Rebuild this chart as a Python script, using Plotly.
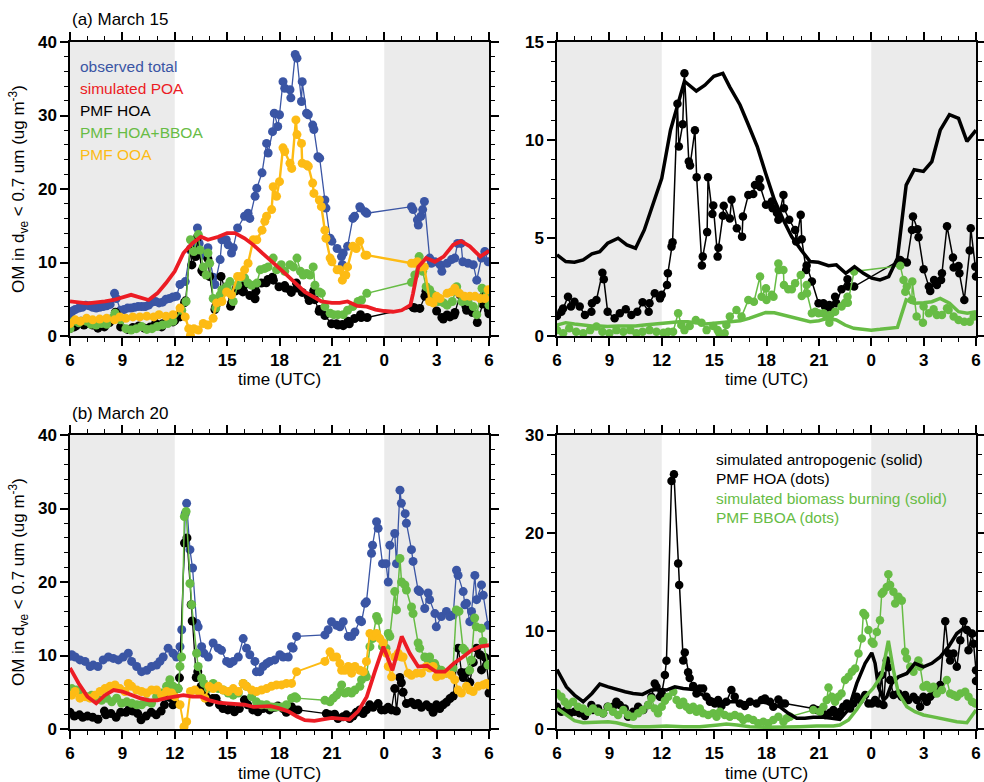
import plotly.graph_objects as go

# ---------------- data: March 15 (panel a) ----------------
obs15 = [(6.0,2.9),(6.15,3.4),(6.3,3.6),(6.5,3.8),(6.7,3.9),(6.9,4.2),(7.1,4.1),(7.3,3.9),(7.5,3.8),(7.7,3.9),(7.9,4.0),(8.1,4.1),(8.3,4.3),(8.55,5.8),(8.65,5.1),(8.9,3.5),(9.1,3.6),(9.3,3.8),(9.5,3.8),(9.7,3.9),(9.9,4.0),(10.1,4.0),(10.3,4.0),(10.5,4.2),(10.7,4.6),(10.9,4.7),(11.1,4.5),(11.3,4.6),(11.5,5.0),(11.7,5.1),(11.9,5.3),(12.1,5.4),(12.3,7.0),(12.6,7.4),(12.9,11.7),(13.06,12.4),(13.3,14.7),(13.4,12.6),(13.6,11.0),(13.9,12.0),(14.2,8.0),(14.3,7.0),(14.6,10.4),(14.7,13.1),(14.95,13.1),(15.06,12.4),(15.25,11.3),(15.35,12.0),(15.6,14.7),(16.0,16.3),(16.2,16.7),(16.3,16.0),(16.6,19.0),(16.7,20.1),(17.0,22.2),(17.26,26.2),(17.35,24.9),(17.6,27.8),(17.7,30.3),(17.9,28.5),(18.0,30.1),(18.2,34.6),(18.3,33.7),(18.6,33.5),(18.65,32.4),(18.9,38.3),(19.0,37.8),(19.26,31.9),(19.3,34.6),(19.55,30.3),(19.65,30.1),(19.9,28.7),(19.97,28.1),(20.2,24.4),(20.3,24.2),(20.6,18.5),(20.66,17.4),(20.9,13.3),(21.0,12.9),(21.3,11.9),(21.55,10.8),(21.6,9.7),(21.65,11.3),(21.9,12.2),(22.2,16.0),(22.3,16.3),(22.6,17.6),(22.65,17.4),(22.9,16.9),(23.0,16.7),(25.56,17.6),(25.65,17.2),(25.9,15.8),(25.95,15.1),(26.1,16.3),(26.2,17.2),(26.3,18.3),(26.6,10.6),(26.7,9.9),(26.9,10.1),(27.2,9.7),(27.3,8.8),(27.6,9.9),(27.85,10.4),(28.04,10.6),(28.2,12.6),(28.4,12.6),(28.5,10.1),(28.8,9.9),(29.1,9.7),(29.3,7.6),(29.57,10.6),(29.76,11.5),(29.95,10.1)]

poa15 = [(6.0,4.7),(7.0,4.45),(8.0,4.7),(8.5,4.9),(9.5,5.6),(10.5,4.9),(11.0,5.8),(11.5,7.2),(12.0,8.8),(12.5,11.3),(13.0,12.6),(13.5,13.5),(13.9,13.1),(14.5,13.5),(15.0,14.0),(15.45,14.0),(16.0,13.3),(16.5,12.4),(17.0,11.3),(17.45,10.4),(18.0,9.2),(18.5,8.1),(19.0,6.9),(19.45,6.0),(19.9,5.4),(20.4,4.7),(21.0,4.5),(21.45,4.5),(21.9,4.7),(22.45,4.1),(23.0,4.0),(23.5,3.6),(24.0,3.4),(24.5,3.3),(25.0,3.5),(25.5,4.2),(25.65,5.8),(25.95,9.4),(26.4,10.6),(26.9,10.1),(27.4,10.8),(27.95,12.4),(28.4,12.9),(28.9,12.2),(29.5,10.8),(30.0,11.6)]

hoa15 = [(6.0,1.02),(6.25,1.24),(6.35,1.4),(6.63,2.0),(6.8,1.5),(7.0,1.75),(7.3,1.5),(7.6,1.07),(7.97,1.24),(8.0,1.67),(8.26,1.84),(8.6,3.23),(8.68,2.9),(8.9,1.24),(9.3,0.9),(9.6,1.16),(9.94,1.36),(10.26,1.07),(10.6,1.24),(10.9,1.72),(11.25,1.24),(11.3,1.67),(11.6,2.18),(11.9,1.92),(12.0,2.1),(12.3,2.6),(12.35,3.2),(12.56,4.56),(12.62,4.78),(12.9,11.85),(12.98,9.67),(13.2,10.8),(13.3,13.4),(13.55,8.9),(13.62,8.7),(13.9,10.5),(14.0,8.1),(14.3,3.6),(14.35,4.05),(14.6,5.3),(14.65,8.1),(14.9,6.23),(14.95,6.66),(15.2,4.05),(15.25,4.5),(15.5,6.13),(15.55,6.64),(15.9,6.0),(16.0,6.95),(16.3,5.5),(16.6,5.07),(16.65,6.1),(16.96,7.2),(17.24,7.25),(17.34,7.7),(17.6,8.0),(17.65,7.6),(17.97,6.7),(18.3,6.86),(18.35,6.52),(18.6,6.27),(18.68,5.93),(18.97,7.2),(19.0,6.52),(19.3,5.93),(19.64,5.41),(19.7,4.82),(19.96,6.18),(20.02,4.94),(20.27,3.37),(20.3,3.6),(20.6,2.78),(20.98,1.67),(21.26,1.67),(21.35,1.5),(21.6,1.58),(21.65,1.41),(21.93,2.0),(22.0,1.67),(22.3,2.38),(22.64,2.9),(22.68,2.52),(23.02,2.52),(25.66,3.88),(25.75,3.8),(26.04,3.75),(26.33,5.41),(26.39,6.1),(26.65,5.45),(26.71,5.04),(27.0,3.4),(27.3,2.52),(27.38,2.3),(27.6,2.86),(27.76,2.6),(28.0,2.86),(28.05,3.2),(28.34,5.6),(28.68,4.0),(28.72,3.5),(29.0,3.57),(29.05,3.2),(29.33,1.84),(29.64,4.36),(29.7,5.5),(29.96,3.54),(30.0,3.03)]

hoabb15 = [(6.0,1.0),(6.2,2.0),(6.5,1.8),(6.95,2.0),(7.2,1.6),(7.5,1.5),(7.8,1.7),(8.1,1.6),(8.4,2.4),(8.58,3.1),(8.9,2.2),(9.2,1.0),(9.5,0.8),(9.8,1.0),(10.1,1.3),(10.4,0.9),(10.7,1.0),(11.0,1.3),(11.3,1.5),(11.6,1.7),(11.9,2.0),(12.4,3.5),(12.65,4.7),(12.9,13.1),(13.1,11.5),(13.35,13.8),(13.45,11.7),(13.63,9.4),(13.8,8.3),(13.9,11.3),(14.0,9.9),(14.2,5.1),(14.35,3.8),(14.6,5.6),(14.7,6.3),(14.97,6.7),(15.16,7.4),(15.35,4.7),(15.6,6.9),(16.0,7.9),(16.2,7.2),(16.4,6.9),(16.7,7.2),(16.9,9.0),(17.16,9.2),(17.35,9.4),(17.64,10.6),(17.83,9.0),(18.1,9.7),(18.3,8.8),(18.6,9.7),(18.8,9.4),(19.0,10.6),(19.2,8.8),(19.36,8.3),(19.55,8.5),(19.75,8.3),(19.93,9.4),(20.03,6.9),(20.28,6.0),(20.4,5.8),(20.6,4.0),(20.9,3.1),(21.1,2.9),(21.35,2.9),(21.65,2.9),(21.9,3.5),(22.2,4.0),(22.5,4.7),(22.7,4.9),(23.0,5.8),(25.56,7.3),(25.75,8.3),(26.0,10.8),(26.2,8.8),(26.4,6.7),(26.6,6.3),(26.8,5.6),(27.1,4.7),(27.4,4.5),(27.6,4.2),(27.9,4.7),(28.15,6.7),(28.45,4.7),(28.8,4.7),(29.1,4.0),(29.3,2.9),(29.6,6.5),(29.85,5.4),(30.0,4.2)]

ooa15 = [(6.0,1.7),(6.3,2.2),(6.6,2.0),(6.95,2.4),(7.3,2.2),(7.7,2.3),(8.1,2.4),(8.55,2.2),(8.86,2.6),(9.2,2.4),(9.6,2.6),(10.0,2.6),(10.4,2.7),(10.8,2.6),(11.1,2.9),(11.5,2.7),(11.9,2.9),(12.3,3.8),(12.6,2.6),(12.8,1.0),(12.9,0.1),(13.1,1.0),(13.35,0.8),(13.63,1.7),(13.9,1.5),(14.2,2.4),(14.4,4.5),(14.7,4.7),(14.97,6.0),(15.25,5.6),(15.6,8.1),(15.8,8.1),(16.0,9.0),(16.2,9.9),(16.5,13.1),(16.7,13.1),(17.0,14.4),(17.16,15.6),(17.26,16.3),(17.55,17.2),(17.64,20.3),(17.83,19.0),(18.0,21.0),(18.2,25.6),(18.3,25.1),(18.6,23.5),(18.7,22.8),(18.94,29.4),(19.0,27.4),(19.26,26.2),(19.3,23.5),(19.55,23.3),(19.65,23.1),(19.9,20.8),(19.97,19.4),(20.28,18.5),(20.4,17.6),(20.6,14.4),(20.66,13.3),(20.9,10.6),(21.0,10.1),(21.3,9.0),(21.45,9.0),(21.6,7.6),(21.8,8.3),(21.9,9.4),(22.2,12.2),(22.4,11.9),(22.6,12.9),(22.9,11.0),(23.0,11.0),(25.56,9.9),(25.75,9.9),(25.9,10.1),(26.1,9.4),(26.3,9.4),(26.6,4.7),(26.8,4.5),(27.0,5.4),(27.2,5.1),(27.6,5.8),(27.85,6.0),(28.04,6.5),(28.3,5.8),(28.6,5.4),(28.9,5.4),(29.2,5.4),(29.5,5.1),(29.76,5.1),(29.95,6.3)]

anth15 = [(6.0,4.14),(6.5,3.8),(7.0,3.76),(7.5,3.88),(8.0,4.19),(8.45,4.3),(8.9,4.73),(9.5,4.99),(10.0,4.65),(10.5,4.48),(11.0,5.41),(11.5,6.69),(12.0,8.05),(12.5,10.5),(13.0,12.0),(13.3,13.0),(13.98,12.5),(14.47,12.8),(14.98,13.25),(15.5,13.4),(15.9,12.7),(16.48,11.8),(16.96,10.78),(17.47,9.67),(17.95,8.3),(18.45,6.95),(18.96,5.93),(19.44,5.07),(19.98,4.39),(20.5,3.8),(20.97,3.76),(21.55,3.59),(22.0,3.63),(22.54,3.2),(23.04,3.54),(23.55,3.2),(24.03,2.95),(24.5,2.86),(25.0,3.03),(25.5,3.97),(26.0,7.7),(26.46,8.48),(26.99,8.4),(27.47,8.9),(27.95,10.5),(28.48,11.29),(29.0,11.1),(29.48,9.93),(30.0,10.5)]

bb15 = [(6.0,0.56),(6.5,0.68),(7.0,0.61),(7.5,0.56),(8.0,0.51),(8.45,0.51),(8.9,0.48),(9.5,0.51),(10.0,0.51),(10.5,0.51),(11.0,0.56),(11.5,0.61),(12.0,0.65),(12.5,0.68),(13.0,0.73),(13.5,0.73),(14.0,0.68),(14.5,0.61),(15.0,0.65),(15.5,0.68),(16.0,0.73),(16.5,0.78),(17.0,0.9),(17.5,1.07),(17.95,1.2),(18.45,1.19),(18.95,1.07),(19.45,0.95),(20.0,0.82),(20.5,0.73),(21.0,0.78),(21.5,0.9),(22.0,0.82),(22.5,0.56),(23.0,0.39),(23.5,0.34),(24.0,0.3),(24.5,0.34),(25.0,0.39),(25.5,0.44),(26.0,1.84),(26.46,1.67),(27.0,1.7),(27.47,1.75),(27.95,1.92),(28.48,1.67),(29.0,1.24),(29.5,1.16),(30.0,1.24)]

bboa15 = [(6.0,0.3),(6.35,0.14),(6.7,0.39),(7.1,0.22),(7.5,0.14),(7.9,0.3),(8.26,0.48),(8.6,0.22),(9.0,0.14),(9.4,0.3),(9.8,0.22),(10.2,0.3),(10.55,0.14),(10.9,0.22),(11.3,0.3),(11.7,0.22),(12.1,0.17),(12.37,0.22),(12.65,0.22),(12.94,1.16),(13.12,0.56),(13.3,0.3),(13.6,0.51),(13.95,0.82),(14.28,0.68),(14.57,0.3),(14.95,0.51),(15.2,0.3),(15.3,0.14),(15.6,0.14),(15.7,0.56),(15.9,0.99),(16.28,1.33),(16.57,0.99),(16.96,1.84),(17.28,1.75),(17.63,3.04),(17.72,2.0),(17.97,2.43),(18.0,1.84),(18.3,2.1),(18.4,2.0),(18.68,3.7),(18.7,3.37),(18.97,3.37),(19.0,2.6),(19.25,2.38),(19.45,2.38),(19.64,2.69),(19.96,3.11),(20.02,2.04),(20.3,2.6),(20.32,2.18),(20.6,1.16),(20.79,1.24),(20.98,1.16),(21.26,1.16),(21.45,0.99),(21.6,0.68),(21.65,1.07),(21.93,1.24),(22.3,1.5),(22.5,1.7),(22.64,2.0),(22.66,1.7),(23.02,3.29),(25.66,3.58),(25.85,2.86),(25.95,2.26),(26.04,2.52),(26.33,1.84),(26.35,2.78),(26.6,0.99),(26.96,0.68),(27.0,1.5),(27.3,1.16),(27.57,1.36),(27.76,1.07),(28.05,1.07),(28.34,1.41),(28.43,1.33),(28.72,0.99),(29.0,0.82),(29.33,0.73),(29.64,0.73),(29.87,0.99)]

# ---------------- data: March 20 (panel b) ----------------
obs20 = [(6.0,9.9),(6.1,10.1),(6.3,9.8),(6.57,9.4),(6.86,9.2),(7.15,8.5),(7.33,8.7),(7.6,8.5),(7.9,9.4),(8.2,9.8),(8.48,9.6),(8.77,9.4),(9.05,9.8),(9.34,10.3),(9.53,9.2),(9.82,8.5),(10.1,7.8),(10.4,8.0),(10.67,8.5),(10.96,8.7),(11.15,9.2),(11.34,9.8),(11.62,11.0),(11.9,10.3),(12.1,9.8),(12.3,11.2),(12.4,13.5),(12.6,29.3),(12.68,30.7),(12.87,24.4),(13.02,21.9),(13.25,14.4),(13.34,13.9),(13.54,11.2),(13.67,10.3),(13.92,9.8),(14.2,11.7),(14.49,11.0),(14.68,10.7),(14.97,9.2),(15.16,8.9),(15.35,9.2),(15.64,9.8),(15.92,12.3),(16.11,11.0),(16.3,10.1),(16.59,9.2),(16.68,7.8),(16.87,7.8),(17.06,8.5),(17.26,8.9),(17.45,9.2),(17.73,9.4),(18.02,10.1),(18.21,9.8),(18.5,9.8),(18.69,11.2),(18.78,11.0),(18.98,12.6),(20.6,12.8),(20.79,13.5),(20.98,14.6),(21.27,14.1),(21.46,13.9),(21.65,14.6),(21.94,12.6),(22.13,12.6),(22.32,13.2),(22.6,14.8),(22.7,14.6),(22.9,17.1),(22.98,17.3),(23.27,23.9),(23.33,25.0),(23.56,28.2),(23.65,27.3),(23.9,22.5),(24.1,22.5),(24.23,20.0),(24.32,25.0),(24.6,26.6),(24.7,22.5),(24.9,32.5),(24.98,30.7),(25.2,29.3),(25.27,28.0),(25.56,24.4),(25.65,22.8),(25.94,18.9),(26.03,18.7),(26.32,16.4),(26.51,18.5),(26.6,17.6),(26.9,15.7),(26.98,13.9),(27.27,15.3),(27.56,16.0),(27.75,15.3),(27.95,15.5),(28.14,21.6),(28.23,20.9),(28.52,18.7),(28.62,16.9),(28.71,17.1),(28.9,14.6),(29.0,16.0),(29.19,20.9),(29.29,17.6),(29.57,19.6),(29.67,18.2),(29.95,14.1)]

poa20 = [(6.0,8.3),(6.5,6.2),(7.0,4.4),(7.5,3.5),(8.0,4.6),(8.5,5.3),(9.0,5.1),(9.5,4.6),(10.0,4.2),(10.5,3.9),(11.0,3.9),(11.5,4.2),(12.0,4.4),(12.5,4.6),(13.0,4.4),(13.5,4.4),(14.0,3.9),(14.5,3.6),(15.0,3.5),(15.5,3.4),(16.0,3.3),(16.5,3.0),(17.0,3.0),(17.5,3.1),(18.0,2.8),(18.5,2.4),(19.0,1.7),(19.45,1.2),(20.0,1.1),(20.5,1.3),(21.0,1.5),(21.45,1.4),(22.0,1.3),(22.5,2.4),(23.0,4.4),(23.46,7.8),(23.95,11.2),(24.47,8.0),(25.0,12.6),(25.46,10.3),(25.94,8.5),(26.46,8.6),(26.95,7.8),(27.47,7.8),(27.98,8.9),(28.5,9.8),(29.0,10.7),(29.47,11.2),(30.0,11.4)]

ooa20 = [(6.1,4.6),(6.29,5.1),(6.57,4.2),(6.86,4.4),(7.15,4.2),(7.43,4.6),(7.72,5.1),(8.0,5.5),(8.29,5.8),(8.58,6.0),(8.86,5.5),(9.15,5.1),(9.34,6.2),(9.53,5.8),(9.82,5.3),(10.1,5.1),(10.39,4.9),(10.67,5.3),(10.96,5.3),(11.25,4.6),(11.53,5.1),(11.82,4.9),(12.01,4.4),(12.3,3.3),(12.53,0.3),(12.68,1.0),(12.9,5.1),(13.15,5.3),(13.44,4.9),(13.73,4.2),(13.97,5.8),(14.2,5.5),(14.49,5.8),(14.78,5.3),(15.06,5.1),(15.35,5.5),(15.64,5.1),(15.92,6.2),(16.11,5.8),(16.4,5.3),(16.68,5.1),(16.97,5.3),(17.26,5.5),(17.54,5.8),(17.83,6.0),(18.12,6.0),(18.4,6.2),(18.69,6.2),(18.98,7.8),(20.6,9.2),(20.89,10.5),(21.08,9.8),(21.27,9.8),(21.46,8.9),(21.56,8.0),(21.75,8.0),(21.94,8.5),(22.13,7.6),(22.32,8.5),(22.6,8.0),(22.8,7.8),(22.98,9.2),(23.18,13.0),(23.37,12.6),(23.56,13.0),(23.75,12.3),(23.94,11.7),(24.13,10.3),(24.23,8.5),(24.42,7.1),(24.6,9.8),(24.8,10.3),(24.99,9.8),(25.08,9.8),(25.37,7.6),(25.56,7.3),(25.85,7.6),(26.13,7.6),(26.42,8.5),(26.61,8.3),(26.8,8.5),(26.99,7.1),(27.28,7.3),(27.56,7.6),(27.85,7.3),(28.04,6.7),(28.23,5.3),(28.42,4.9),(28.71,5.8),(28.9,5.3),(29.09,5.1),(29.38,5.8),(29.67,6.0),(29.86,6.2),(30.0,6.0)]

hoabb20 = [(6.1,5.5),(6.38,5.3),(6.67,4.9),(6.95,4.4),(7.24,4.6),(7.53,4.2),(7.81,3.9),(8.1,4.2),(8.39,3.7),(8.67,4.2),(8.96,3.5),(9.25,3.7),(9.53,3.5),(9.82,3.3),(10.1,3.3),(10.39,3.7),(10.67,3.5),(10.96,4.4),(11.25,4.9),(11.53,5.8),(11.72,6.7),(11.91,5.8),(12.2,5.5),(12.3,8.5),(12.39,9.8),(12.55,28.9),(12.65,29.6),(12.87,19.8),(12.97,16.9),(13.25,10.3),(13.34,8.5),(13.54,6.9),(13.67,6.2),(13.92,5.5),(14.2,6.2),(14.49,5.5),(14.78,5.3),(15.06,4.9),(15.35,4.6),(15.64,4.9),(15.92,6.2),(16.11,5.8),(16.4,4.4),(16.68,3.7),(16.97,3.3),(17.26,3.3),(17.54,3.0),(17.83,3.0),(18.12,3.0),(18.4,3.3),(18.69,4.2),(18.88,4.4),(18.98,4.2),(20.6,3.9),(20.89,3.7),(21.08,4.2),(21.27,4.6),(21.46,5.1),(21.56,6.0),(21.75,4.9),(21.94,5.1),(22.13,4.9),(22.32,5.3),(22.6,5.8),(22.7,6.7),(22.89,7.6),(22.98,7.1),(23.18,11.2),(23.33,12.3),(23.56,15.3),(23.65,14.8),(23.9,11.2),(24.1,11.0),(24.23,13.0),(24.32,12.6),(24.6,18.7),(24.7,16.2),(24.9,23.2),(24.99,20.0),(25.18,19.6),(25.27,18.9),(25.56,16.6),(25.65,15.7),(25.94,11.7),(26.03,11.0),(26.32,9.8),(26.51,9.4),(26.6,9.8),(26.89,8.9),(26.99,8.3),(27.27,8.0),(27.56,7.6),(27.75,7.8),(27.94,8.3),(28.13,16.2),(28.28,16.0),(28.51,11.0),(28.61,10.7),(28.89,8.0),(28.99,9.4),(29.18,15.1),(29.27,13.9),(29.56,13.7),(29.66,11.9),(29.94,8.7)]

hoa20 = [(6.0,2.27),(6.25,1.76),(6.54,1.93),(6.73,1.6),(7.0,1.76),(7.3,1.6),(7.6,1.32),(7.97,2.44),(8.06,1.93),(8.35,2.1),(8.64,1.6),(8.9,2.27),(9.2,2.27),(9.4,2.78),(9.6,2.44),(9.88,2.1),(10.07,1.26),(10.36,1.76),(10.65,2.27),(10.94,1.93),(11.22,2.44),(11.41,3.29),(11.6,4.65),(11.7,4.3),(11.9,3.29),(12.0,3.63),(12.18,5.5),(12.27,6.96),(12.56,25.3),(12.7,26.0),(12.94,16.9),(13.0,14.7),(13.23,7.0),(13.32,7.8),(13.51,5.8),(13.6,5.2),(13.8,4.4),(13.99,3.63),(14.18,4.14),(14.37,4.14),(14.56,3.29),(14.76,2.78),(15.04,2.6),(15.23,2.95),(15.42,2.34),(15.7,2.78),(15.99,3.97),(16.18,3.29),(16.47,2.6),(16.76,2.34),(17.05,2.78),(17.43,2.6),(17.72,2.95),(17.91,3.12),(18.2,2.78),(18.39,2.27),(18.68,3.02),(18.87,2.6),(19.06,2.6),(20.68,2.1),(20.87,1.93),(21.16,2.0),(21.35,1.43),(21.64,1.66),(21.83,1.93),(22.02,1.43),(22.21,1.76),(22.4,2.27),(22.6,2.6),(22.79,2.1),(22.98,2.6),(23.17,3.29),(23.36,2.95),(23.65,3.46),(23.84,2.6),(24.03,2.6),(24.22,2.95),(24.41,2.6),(24.6,5.5),(24.7,2.44),(24.89,7.0),(24.98,6.3),(25.08,5.0),(25.27,3.46),(25.56,3.63),(25.75,3.29),(25.94,3.46),(26.13,2.95),(26.42,3.29),(26.61,2.95),(26.8,2.27),(26.99,3.29),(27.18,2.78),(27.37,3.29),(27.56,3.63),(27.76,4.14),(27.95,4.48),(28.24,11.0),(28.43,7.7),(28.52,7.0),(28.71,7.7),(28.9,6.35),(29.1,9.06),(29.29,11.0),(29.48,10.1),(29.57,8.04),(29.77,9.74),(29.86,8.7),(30.0,6.0),(30.0,4.9)]

anth20 = [(6.0,6.07),(6.54,4.3),(7.0,3.46),(7.5,2.78),(8.0,3.63),(8.45,4.58),(8.93,4.3),(9.4,4.04),(9.9,3.8),(10.36,3.63),(10.9,3.53),(11.4,3.97),(11.9,4.04),(12.27,3.97),(12.75,4.3),(13.23,4.14),(13.8,4.04),(14.28,3.53),(14.76,3.12),(15.23,2.78),(15.7,2.78),(16.3,2.78),(16.76,2.68),(17.24,2.68),(17.7,2.78),(18.2,2.6),(18.77,2.27),(19.25,1.6),(19.73,1.09),(20.2,1.09),(20.68,1.19),(21.26,1.19),(21.74,1.09),(22.2,0.98),(22.7,2.0),(23.17,4.65),(23.65,6.7),(24.03,7.77),(24.22,6.7),(24.41,4.3),(24.7,2.95),(24.89,3.29),(25.18,4.65),(25.56,5.33),(26.04,5.67),(26.5,6.7),(26.99,6.35),(27.47,6.7),(27.95,7.36),(28.43,8.4),(28.9,9.74),(29.38,10.4),(29.77,9.9),(30.0,9.5)]

bb20 = [(6.0,2.1),(6.54,1.43),(7.0,0.85),(7.5,0.64),(8.45,0.75),(8.93,0.75),(9.4,0.64),(9.88,0.41),(10.36,0.24),(11.3,0.24),(12.27,0.3),(13.23,0.24),(14.18,0.24),(15.23,0.41),(15.7,0.5),(16.3,0.41),(17.05,0.24),(18.0,0.17),(18.96,0.17),(19.9,0.24),(20.87,0.3),(21.83,0.3),(22.2,0.41),(22.7,0.92),(23.17,2.0),(23.65,3.29),(24.1,4.14),(24.6,5.5),(24.98,9.0),(25.27,6.0),(25.56,3.63),(26.04,2.27),(26.5,1.76),(26.99,1.43),(27.47,1.26),(27.95,1.09),(28.43,0.92),(28.9,0.75),(29.48,0.64),(30.0,1.93)]

bboa20 = [(6.0,3.63),(6.25,3.29),(6.44,2.78),(6.63,2.44),(6.92,2.78),(7.2,2.27),(7.49,2.1),(7.78,1.76),(8.06,2.1),(8.35,1.76),(8.64,1.6),(8.93,2.27),(9.21,1.76),(9.5,1.43),(9.8,1.93),(10.07,1.43),(10.36,1.26),(10.65,1.6),(10.9,1.93),(11.22,2.44),(11.41,3.12),(11.6,2.1),(11.79,1.6),(12.0,2.27),(12.18,2.88),(12.37,3.29),(12.66,3.8),(12.85,2.95),(13.04,2.44),(13.23,2.78),(13.42,2.27),(13.61,1.93),(13.8,2.27),(13.99,1.76),(14.18,2.1),(14.37,1.6),(14.66,1.43),(14.95,1.6),(15.14,1.26),(15.33,1.76),(15.61,1.43),(15.9,1.26),(16.19,1.43),(16.48,1.26),(16.67,0.92),(16.95,1.09),(17.24,0.92),(17.53,0.58),(17.82,0.75),(18.1,0.58),(18.39,0.92),(18.68,1.26),(18.97,0.75),(19.16,1.09),(19.35,1.26),(20.68,1.93),(21.06,1.76),(21.26,2.27),(21.45,2.95),(21.55,4.24),(21.74,3.29),(21.93,2.78),(22.12,3.29),(22.3,3.63),(22.5,5.0),(22.7,5.33),(22.89,5.84),(23.08,6.18),(23.27,7.7),(23.46,9.23),(23.55,11.84),(23.65,11.6),(23.84,10.1),(24.03,8.9),(24.13,8.7),(24.32,9.9),(24.5,11.1),(24.6,13.8),(24.7,14.0),(24.89,14.5),(24.98,15.8),(25.08,14.7),(25.27,14.0),(25.37,12.8),(25.56,13.5),(25.75,13.1),(25.94,7.87),(26.04,7.2),(26.23,6.35),(26.42,5.84),(26.7,7.0),(26.8,6.35),(26.99,4.3),(27.18,4.48),(27.37,4.14),(27.56,4.3),(27.76,3.63),(28.05,3.97),(28.33,5.0),(28.52,3.63),(28.71,3.46),(28.9,3.29),(29.1,3.63),(29.38,3.8),(29.57,3.29),(29.77,2.78),(29.96,2.6)]

# ---------------- labels ----------------
xtick_alias = {"24": "0", "27": "3", "30": "6"}
legend_a = [("observed total", "#3a55a4"), ("simulated POA", "#ec1c24"), ("PMF HOA", "#000000"),
            ("PMF HOA+BBOA", "#67bc45"), ("PMF OOA", "#fdbb14")]
legend_b = [("simulated antropogenic (solid)", "#000000"), ("PMF HOA (dots)", "#000000"),
            ("simulated biomass burning (solid)", "#67bc45"), ("PMF BBOA (dots)", "#67bc45")]
panel_titles = ["(a) March 15", "(b) March 20"]

BLUE, RED, BLACK, GREEN, ORANGE = "#3a55a4", "#ec1c24", "#000000", "#67bc45", "#fdbb14"
FONT = "Liberation Sans, Arial, Helvetica, sans-serif"
W, H = 984, 782


def xy(pairs):
    return [p[0] for p in pairs], [p[1] for p in pairs]


fig = go.Figure()


def dots(pairs, color, xa, ya, lw=1.3, ms=9):
    x, y = xy(pairs)
    fig.add_trace(go.Scatter(x=x, y=y, mode="lines+markers", xaxis=xa, yaxis=ya,
                             line=dict(color=color, width=lw),
                             marker=dict(color=color, size=ms, line=dict(width=0)),
                             showlegend=False, hoverinfo="skip"))


def solid(pairs, color, xa, ya, lw=3.5):
    x, y = xy(pairs)
    fig.add_trace(go.Scatter(x=x, y=y, mode="lines", xaxis=xa, yaxis=ya,
                             line=dict(color=color, width=lw),
                             showlegend=False, hoverinfo="skip"))


# panel a left
dots(obs15, BLUE, "x", "y", 1.3)
dots(hoa15, BLACK, "x", "y", 1.3)
dots(hoabb15, GREEN, "x", "y", 1.5)
dots(ooa15, ORANGE, "x", "y", 2.4)
solid(poa15, RED, "x", "y", 3.8)
# panel a right
dots(hoa15, BLACK, "x2", "y2", 1.5, 8.5)
dots(bboa15, GREEN, "x2", "y2", 1.5, 8.5)
solid(anth15, BLACK, "x2", "y2", 3.5)
solid(bb15, GREEN, "x2", "y2", 3.5)
# panel b left
dots(obs20, BLUE, "x3", "y3", 1.3)
dots(hoa20, BLACK, "x3", "y3", 1.3)
dots(hoabb20, GREEN, "x3", "y3", 1.5)
dots(ooa20, ORANGE, "x3", "y3", 2.0)
solid(poa20, RED, "x3", "y3", 3.8)
# panel b right
dots(hoa20, BLACK, "x4", "y4", 1.5, 8.5)
dots(bboa20, GREEN, "x4", "y4", 1.5, 8.5)
solid(anth20, BLACK, "x4", "y4", 3.5)
solid(bb20, GREEN, "x4", "y4", 3.5)

# geometry (pixels)
LX = (70, 489)
RX = (557, 976)
TY = (42, 336)
BY = (435, 729)


def dom_x(a):
    return [a[0] / W, a[1] / W]


def dom_y(a):
    return [1 - a[1] / H, 1 - a[0] / H]


tickfont = dict(family=FONT, size=17, color="black", weight="bold")


def xaxis(dom, anchor):
    return dict(domain=dom_x(dom), anchor=anchor, range=[6, 30], tick0=6, dtick=3,
                ticks="outside", ticklen=8, tickwidth=1.5, tickcolor="black",
                showline=True, linewidth=1.5, linecolor="black", mirror="ticks",
                showgrid=False, zeroline=False, labelalias=xtick_alias,
                minor=dict(dtick=1, tick0=6, ticks="outside", ticklen=4, tickwidth=1.2,
                           tickcolor="black", showgrid=False),
                tickfont=tickfont, fixedrange=True)


def yaxis(dom, anchor, top, major, minor):
    return dict(domain=dom_y(dom), anchor=anchor, range=[0, top], tick0=0, dtick=major,
                ticks="outside", ticklen=8, tickwidth=1.5, tickcolor="black",
                showline=True, linewidth=1.5, linecolor="black", mirror="ticks",
                showgrid=False, zeroline=False,
                minor=dict(dtick=minor, tick0=0, ticks="outside", ticklen=4, tickwidth=1.2,
                           tickcolor="black", showgrid=False),
                tickfont=tickfont, fixedrange=True)


shapes = []
for xr in ["x", "x2", "x3", "x4"]:
    yr = "y" + xr[1:]
    for (a, b) in [(6, 12), (24, 30)]:
        shapes.append(dict(type="rect", xref=xr, yref=yr + " domain", x0=a, x1=b, y0=0, y1=1,
                           fillcolor="#ebebeb", line=dict(width=0), layer="below"))


def ann(text, px, py, size=17, color="black", xanchor="center", angle=0):
    return dict(text=text, x=px / W, y=1 - py / H, xref="paper", yref="paper",
                xanchor=xanchor, yanchor="middle", showarrow=False, textangle=angle,
                font=dict(family=FONT, size=size, color=color))


anns = []
anns.append(ann(panel_titles[0], 70, 20, 17, xanchor="left"))
anns.append(ann(panel_titles[1], 70, 413, 17, xanchor="left"))
for cx in [(LX[0] + LX[1]) / 2, (RX[0] + RX[1]) / 2]:
    anns.append(ann("time (UTC)", cx, 380, 17))
    anns.append(ann("time (UTC)", cx, 773, 17))
ytitle = "OM in d<sub>ve</sub> &lt; 0.7 um (ug m<sup>-3</sup>)"
anns.append(ann(ytitle, 18, (TY[0] + TY[1]) / 2, 17, angle=-90))
anns.append(ann(ytitle, 18, (BY[0] + BY[1]) / 2, 17, angle=-90))
for i, (t, c) in enumerate(legend_a):
    anns.append(ann(t, 78, 67 + 21.8 * i, 15.5, c, xanchor="left"))
for i, (t, c) in enumerate(legend_b):
    anns.append(ann(t, 714, 459 + 19.5 * i, 15.5, c, xanchor="left"))

fig.update_layout(
    width=W, height=H, margin=dict(l=0, r=0, t=0, b=0, autoexpand=False),
    paper_bgcolor="white", plot_bgcolor="white", showlegend=False,
    font=dict(family=FONT, color="black"),
    xaxis=xaxis(LX, "y"), yaxis=yaxis(TY, "x", 40, 10, 2),
    xaxis2=xaxis(RX, "y2"), yaxis2=yaxis(TY, "x2", 15, 5, 1),
    xaxis3=xaxis(LX, "y3"), yaxis3=yaxis(BY, "x3", 40, 10, 2),
    xaxis4=xaxis(RX, "y4"), yaxis4=yaxis(BY, "x4", 30, 10, 2),
    shapes=shapes, annotations=anns,
)

fig.write_html("out.html")
